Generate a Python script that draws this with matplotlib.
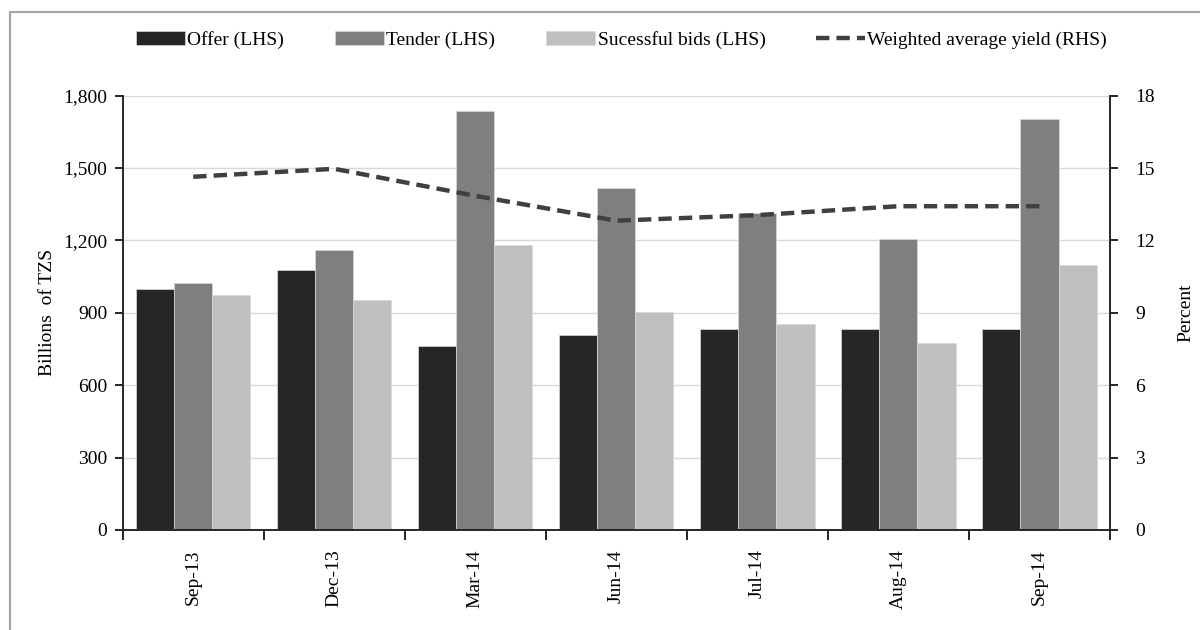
import matplotlib
matplotlib.use("Agg")
import matplotlib.pyplot as plt
from matplotlib.patches import Rectangle
from matplotlib.ticker import FuncFormatter, MultipleLocator, FixedLocator
import numpy as np

plt.rcParams['font.family'] = ['Liberation Serif', 'DejaVu Serif']

# data
months = ['Sep-13', 'Dec-13', 'Mar-14', 'Jun-14', 'Jul-14', 'Aug-14', 'Sep-14']
offer = [998, 1078, 762, 808, 835, 835, 835]
tender = [1025, 1162, 1737, 1418, 1315, 1205, 1704]
successful = [973, 955, 1182, 905, 855, 775, 1098]
yield_pct = [14.64, 14.97, 13.85, 12.82, 13.05, 13.42, 13.42]

fs = 14

fig = plt.figure(figsize=(12, 6.3), dpi=100)
ax = fig.add_axes([122.7 / 1200, 1 - 530 / 630, (1110 - 122.7) / 1200, (530 - 95.7) / 630])
ax2 = ax.twinx()

# light frame around the figure
fig.patches.append(Rectangle((10 / 1200, -0.05), 1.1, 1 - 12 / 630 + 0.05,
                             transform=fig.transFigure, fill=False,
                             edgecolor='#a6a6a6', linewidth=1.6, zorder=0))

x = np.arange(len(months))
w = 0.27
ax.bar(x - w, offer, w, color='#262626', edgecolor='#d9d9d9', linewidth=0.5,
       label='Offer (LHS)', zorder=2)
ax.bar(x, tender, w, color='#7f7f7f', edgecolor='#d9d9d9', linewidth=0.5,
       label='Tender (LHS)', zorder=2)
ax.bar(x + w, successful, w, color='#bfbfbf', edgecolor='#d9d9d9', linewidth=0.5,
       label='Sucessful bids (LHS)', zorder=2)

ax2.plot(x, yield_pct, color='#404040', linewidth=3.2, dashes=(3, 1.6),
         label='Weighted average yield (RHS)')

ax.set_xlim(-0.5, len(months) - 0.5)
ax.set_ylim(0, 1800)
ax2.set_ylim(0, 18)
ax.yaxis.set_major_locator(MultipleLocator(300))
ax.yaxis.set_major_formatter(FuncFormatter(lambda v, p: f'{int(v):,}'))
ax2.yaxis.set_major_locator(MultipleLocator(3))

ax.set_axisbelow(True)
ax.grid(axis='y', color='#d9d9d9', linewidth=1)

ax.set_xticks(x)
ax.set_xticklabels(months, rotation=90)
ax.xaxis.set_minor_locator(FixedLocator(np.arange(-0.5, len(months), 1)))
ax.tick_params(axis='x', which='major', length=0, pad=14, labelsize=fs)
ax.tick_params(axis='x', which='minor', length=7, width=1.2, direction='out')
ax.tick_params(axis='y', length=6, width=1.2, direction='out', labelsize=fs, pad=5)
ax2.tick_params(axis='y', length=6, width=1.2, direction='out', labelsize=fs, pad=12)

for a in (ax, ax2):
    a.spines['top'].set_visible(False)
    for s in ('left', 'right', 'bottom'):
        a.spines[s].set_linewidth(1.2)
        a.spines[s].set_color('#262626')

ax.set_ylabel('Billions  of TZS', fontsize=fs, labelpad=5)
ax2.set_ylabel('Percent', fontsize=fs, labelpad=16)

h1, l1 = ax.get_legend_handles_labels()
h2, l2 = ax2.get_legend_handles_labels()
fig.legend(h1 + h2, l1 + l2, loc='center', bbox_to_anchor=(0.518, 1 - 40 / 630),
           ncol=4, frameon=False, fontsize=fs, handlelength=2.5, handleheight=0.7,
           handletextpad=0.15, columnspacing=2.6)

fig.savefig('out.png', dpi=100)
